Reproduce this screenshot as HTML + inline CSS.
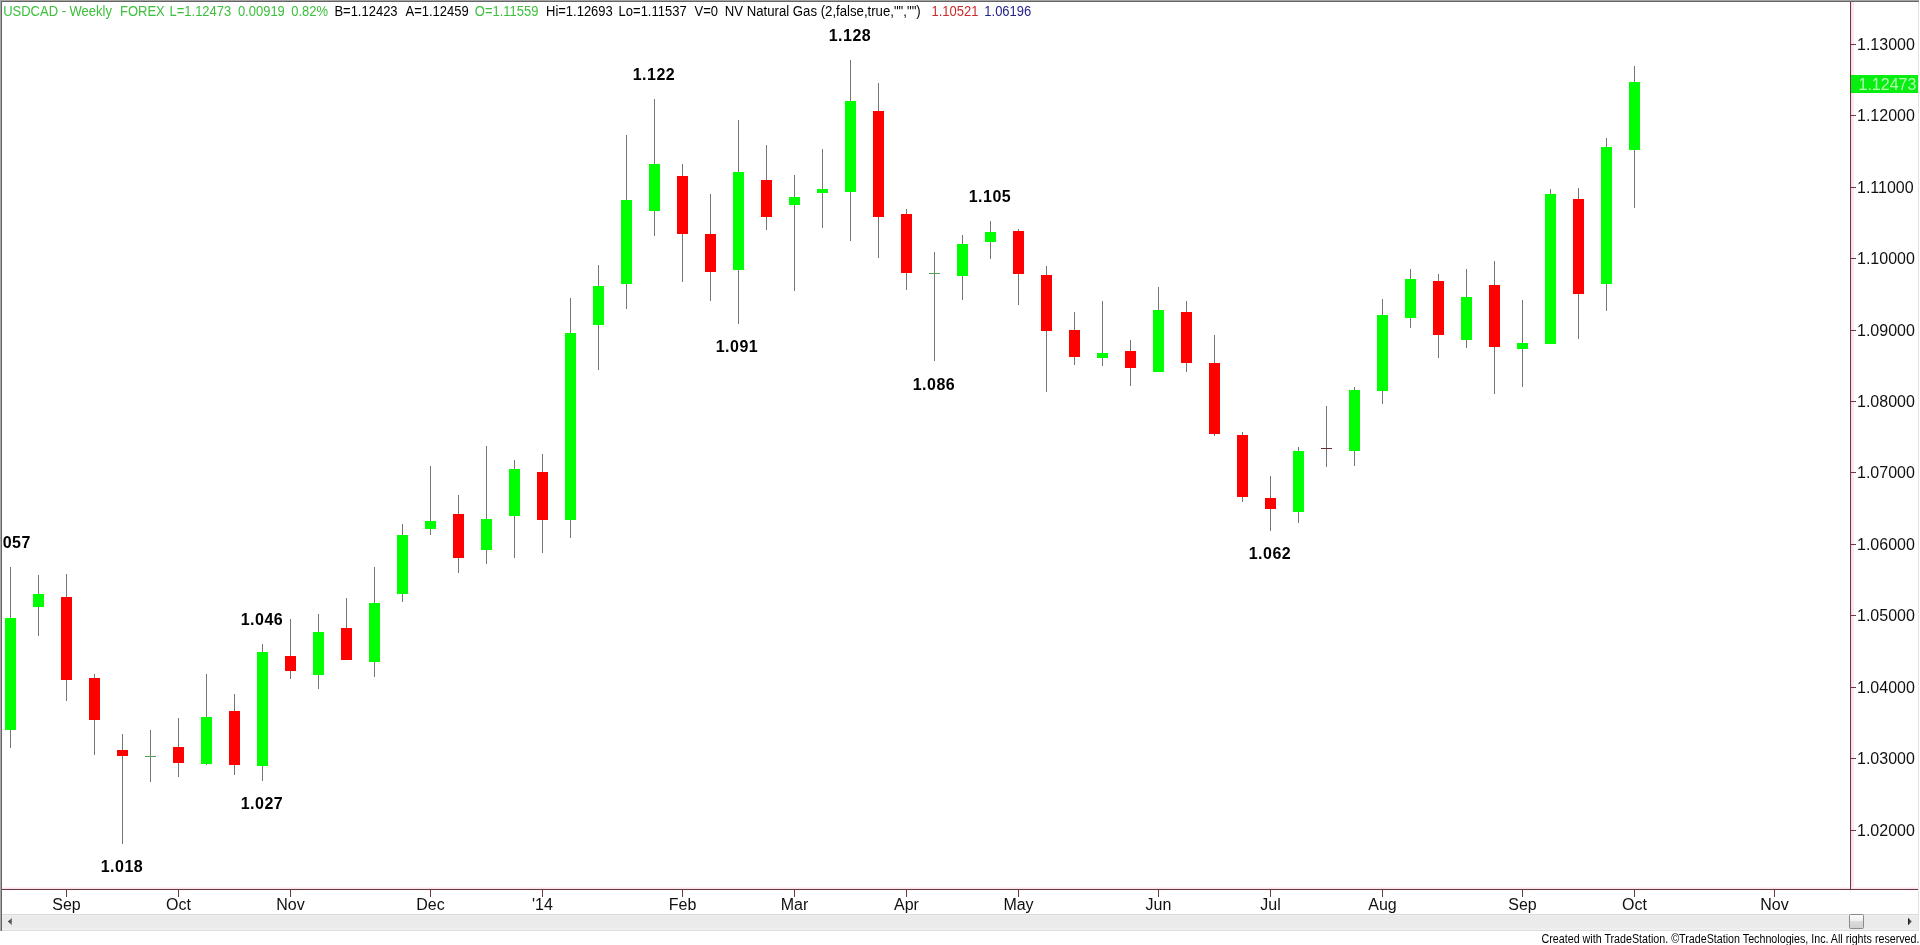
<!DOCTYPE html>
<html><head><meta charset="utf-8"><title>USDCAD - Weekly FOREX</title>
<style>
html,body{margin:0;padding:0;background:#fff;width:1920px;height:945px;overflow:hidden;}
svg{display:block;will-change:transform;}
text{font-family:"Liberation Sans",Arial,sans-serif;}
.hd{font-size:13px;}
.pl{font-size:16px;fill:#111;}
.dl{font-size:16px;fill:#111;}
.lb{font-size:16px;font-weight:bold;fill:#000;letter-spacing:0.5px;}
.ft{font-size:12px;fill:#000;}
</style></head><body>
<svg width="1920" height="945" viewBox="0 0 1920 945" shape-rendering="crispEdges">
<rect x="0" y="0" width="1920" height="945" fill="#fff"/>
<g>
<defs><clipPath id="cc"><rect x="2" y="2" width="1848" height="887"/></clipPath></defs>
<g clip-path="url(#cc)">
<rect x="10" y="567" width="1" height="181" fill="#767676"/>
<rect x="5" y="618" width="11" height="112" fill="#00ff00"/>
<rect x="38" y="575" width="1" height="61" fill="#767676"/>
<rect x="33" y="594" width="11" height="13" fill="#00ff00"/>
<rect x="66" y="574" width="1" height="127" fill="#767676"/>
<rect x="61" y="597" width="11" height="83" fill="#ff0000"/>
<rect x="94" y="674" width="1" height="81" fill="#767676"/>
<rect x="89" y="678" width="11" height="42" fill="#ff0000"/>
<rect x="122" y="734" width="1" height="110" fill="#767676"/>
<rect x="117" y="750" width="11" height="6" fill="#ff0000"/>
<rect x="150" y="730" width="1" height="52" fill="#767676"/>
<rect x="145" y="756" width="11" height="1" fill="#55a05d"/>
<rect x="178" y="718" width="1" height="59" fill="#767676"/>
<rect x="173" y="747" width="11" height="16" fill="#ff0000"/>
<rect x="206" y="674" width="1" height="91" fill="#767676"/>
<rect x="201" y="717" width="11" height="47" fill="#00ff00"/>
<rect x="234" y="694" width="1" height="81" fill="#767676"/>
<rect x="229" y="711" width="11" height="54" fill="#ff0000"/>
<rect x="262" y="644" width="1" height="137" fill="#767676"/>
<rect x="257" y="652" width="11" height="114" fill="#00ff00"/>
<rect x="290" y="619" width="1" height="60" fill="#767676"/>
<rect x="285" y="656" width="11" height="15" fill="#ff0000"/>
<rect x="318" y="614" width="1" height="75" fill="#767676"/>
<rect x="313" y="632" width="11" height="43" fill="#00ff00"/>
<rect x="346" y="598" width="1" height="62" fill="#767676"/>
<rect x="341" y="628" width="11" height="32" fill="#ff0000"/>
<rect x="374" y="567" width="1" height="110" fill="#767676"/>
<rect x="369" y="603" width="11" height="59" fill="#00ff00"/>
<rect x="402" y="524" width="1" height="78" fill="#767676"/>
<rect x="397" y="535" width="11" height="59" fill="#00ff00"/>
<rect x="430" y="466" width="1" height="69" fill="#767676"/>
<rect x="425" y="521" width="11" height="8" fill="#00ff00"/>
<rect x="458" y="495" width="1" height="78" fill="#767676"/>
<rect x="453" y="514" width="11" height="44" fill="#ff0000"/>
<rect x="486" y="446" width="1" height="118" fill="#767676"/>
<rect x="481" y="519" width="11" height="31" fill="#00ff00"/>
<rect x="514" y="460" width="1" height="98" fill="#767676"/>
<rect x="509" y="469" width="11" height="47" fill="#00ff00"/>
<rect x="542" y="454" width="1" height="99" fill="#767676"/>
<rect x="537" y="472" width="11" height="48" fill="#ff0000"/>
<rect x="570" y="298" width="1" height="240" fill="#767676"/>
<rect x="565" y="333" width="11" height="187" fill="#00ff00"/>
<rect x="598" y="265" width="1" height="105" fill="#767676"/>
<rect x="593" y="286" width="11" height="39" fill="#00ff00"/>
<rect x="626" y="135" width="1" height="174" fill="#767676"/>
<rect x="621" y="200" width="11" height="84" fill="#00ff00"/>
<rect x="654" y="99" width="1" height="137" fill="#767676"/>
<rect x="649" y="164" width="11" height="47" fill="#00ff00"/>
<rect x="682" y="164" width="1" height="118" fill="#767676"/>
<rect x="677" y="176" width="11" height="58" fill="#ff0000"/>
<rect x="710" y="194" width="1" height="107" fill="#767676"/>
<rect x="705" y="234" width="11" height="38" fill="#ff0000"/>
<rect x="738" y="120" width="1" height="204" fill="#767676"/>
<rect x="733" y="172" width="11" height="98" fill="#00ff00"/>
<rect x="766" y="145" width="1" height="85" fill="#767676"/>
<rect x="761" y="180" width="11" height="37" fill="#ff0000"/>
<rect x="794" y="175" width="1" height="116" fill="#767676"/>
<rect x="789" y="197" width="11" height="8" fill="#00ff00"/>
<rect x="822" y="149" width="1" height="79" fill="#767676"/>
<rect x="817" y="189" width="11" height="4" fill="#00ff00"/>
<rect x="850" y="60" width="1" height="181" fill="#767676"/>
<rect x="845" y="101" width="11" height="91" fill="#00ff00"/>
<rect x="878" y="83" width="1" height="175" fill="#767676"/>
<rect x="873" y="111" width="11" height="106" fill="#ff0000"/>
<rect x="906" y="209" width="1" height="81" fill="#767676"/>
<rect x="901" y="214" width="11" height="59" fill="#ff0000"/>
<rect x="934" y="252" width="1" height="109" fill="#767676"/>
<rect x="929" y="273" width="11" height="1" fill="#55a05d"/>
<rect x="962" y="235" width="1" height="65" fill="#767676"/>
<rect x="957" y="244" width="11" height="32" fill="#00ff00"/>
<rect x="990" y="221" width="1" height="38" fill="#767676"/>
<rect x="985" y="232" width="11" height="10" fill="#00ff00"/>
<rect x="1018" y="229" width="1" height="76" fill="#767676"/>
<rect x="1013" y="231" width="11" height="43" fill="#ff0000"/>
<rect x="1046" y="266" width="1" height="126" fill="#767676"/>
<rect x="1041" y="275" width="11" height="56" fill="#ff0000"/>
<rect x="1074" y="312" width="1" height="53" fill="#767676"/>
<rect x="1069" y="330" width="11" height="27" fill="#ff0000"/>
<rect x="1102" y="301" width="1" height="65" fill="#767676"/>
<rect x="1097" y="353" width="11" height="5" fill="#00ff00"/>
<rect x="1130" y="340" width="1" height="46" fill="#767676"/>
<rect x="1125" y="351" width="11" height="17" fill="#ff0000"/>
<rect x="1158" y="287" width="1" height="85" fill="#767676"/>
<rect x="1153" y="310" width="11" height="62" fill="#00ff00"/>
<rect x="1186" y="301" width="1" height="71" fill="#767676"/>
<rect x="1181" y="312" width="11" height="51" fill="#ff0000"/>
<rect x="1214" y="335" width="1" height="101" fill="#767676"/>
<rect x="1209" y="363" width="11" height="71" fill="#ff0000"/>
<rect x="1242" y="432" width="1" height="70" fill="#767676"/>
<rect x="1237" y="435" width="11" height="62" fill="#ff0000"/>
<rect x="1270" y="476" width="1" height="55" fill="#767676"/>
<rect x="1265" y="498" width="11" height="11" fill="#ff0000"/>
<rect x="1298" y="447" width="1" height="76" fill="#767676"/>
<rect x="1293" y="451" width="11" height="61" fill="#00ff00"/>
<rect x="1326" y="406" width="1" height="61" fill="#767676"/>
<rect x="1321" y="448" width="11" height="1" fill="#6a2e2e"/>
<rect x="1354" y="387" width="1" height="79" fill="#767676"/>
<rect x="1349" y="390" width="11" height="61" fill="#00ff00"/>
<rect x="1382" y="299" width="1" height="105" fill="#767676"/>
<rect x="1377" y="315" width="11" height="76" fill="#00ff00"/>
<rect x="1410" y="269" width="1" height="59" fill="#767676"/>
<rect x="1405" y="279" width="11" height="39" fill="#00ff00"/>
<rect x="1438" y="274" width="1" height="84" fill="#767676"/>
<rect x="1433" y="281" width="11" height="54" fill="#ff0000"/>
<rect x="1466" y="269" width="1" height="79" fill="#767676"/>
<rect x="1461" y="297" width="11" height="43" fill="#00ff00"/>
<rect x="1494" y="261" width="1" height="133" fill="#767676"/>
<rect x="1489" y="285" width="11" height="62" fill="#ff0000"/>
<rect x="1522" y="300" width="1" height="87" fill="#767676"/>
<rect x="1517" y="343" width="11" height="6" fill="#00ff00"/>
<rect x="1550" y="189" width="1" height="155" fill="#767676"/>
<rect x="1545" y="194" width="11" height="150" fill="#00ff00"/>
<rect x="1578" y="188" width="1" height="151" fill="#767676"/>
<rect x="1573" y="199" width="11" height="95" fill="#ff0000"/>
<rect x="1606" y="138" width="1" height="173" fill="#767676"/>
<rect x="1601" y="147" width="11" height="137" fill="#00ff00"/>
<rect x="1634" y="66" width="1" height="142" fill="#767676"/>
<rect x="1629" y="82" width="11" height="68" fill="#00ff00"/>
<text class="lb" x="9.6" y="547.6" text-anchor="middle" shape-rendering="auto">1.057</text>
<text class="lb" x="122" y="871.6" text-anchor="middle" shape-rendering="auto">1.018</text>
<text class="lb" x="262" y="624.6" text-anchor="middle" shape-rendering="auto">1.046</text>
<text class="lb" x="262" y="808.6" text-anchor="middle" shape-rendering="auto">1.027</text>
<text class="lb" x="654" y="79.6" text-anchor="middle" shape-rendering="auto">1.122</text>
<text class="lb" x="850" y="40.6" text-anchor="middle" shape-rendering="auto">1.128</text>
<text class="lb" x="737" y="351.6" text-anchor="middle" shape-rendering="auto">1.091</text>
<text class="lb" x="934" y="389.6" text-anchor="middle" shape-rendering="auto">1.086</text>
<text class="lb" x="990" y="201.6" text-anchor="middle" shape-rendering="auto">1.105</text>
<text class="lb" x="1270" y="558.6" text-anchor="middle" shape-rendering="auto">1.062</text>
</g>
<rect x="0" y="0" width="1919" height="1" fill="#a4a4a4"/>
<rect x="1" y="1" width="1918" height="1" fill="#646464"/>
<rect x="0" y="0" width="1" height="931" fill="#a8a8a8"/>
<rect x="1" y="1" width="1" height="930" fill="#646464"/>
<rect x="1918" y="2" width="1" height="929" fill="#e2e2e2"/>
<rect x="1851" y="2" width="1" height="887" fill="#fcd8e6"/>
<rect x="1852" y="2" width="2" height="887" fill="#fde8f0"/>
<rect x="2" y="887" width="1916" height="1" fill="#fef1f4"/>
<rect x="2" y="888" width="1916" height="1" fill="#fde0e8"/>
<rect x="2" y="889" width="1916" height="1" fill="#6c3844"/>
<rect x="1850" y="2" width="1" height="887" fill="#6c3844"/>
<rect x="1851" y="44" width="5" height="1" fill="#6c3844"/>
<text class="pl" x="1857" y="49.8">1.13000</text>
<rect x="1851" y="115" width="5" height="1" fill="#6c3844"/>
<text class="pl" x="1857" y="120.8">1.12000</text>
<rect x="1851" y="187" width="5" height="1" fill="#6c3844"/>
<text class="pl" x="1857" y="192.8">1.11000</text>
<rect x="1851" y="258" width="5" height="1" fill="#6c3844"/>
<text class="pl" x="1857" y="263.8">1.10000</text>
<rect x="1851" y="330" width="5" height="1" fill="#6c3844"/>
<text class="pl" x="1857" y="335.8">1.09000</text>
<rect x="1851" y="401" width="5" height="1" fill="#6c3844"/>
<text class="pl" x="1857" y="406.8">1.08000</text>
<rect x="1851" y="472" width="5" height="1" fill="#6c3844"/>
<text class="pl" x="1857" y="477.8">1.07000</text>
<rect x="1851" y="544" width="5" height="1" fill="#6c3844"/>
<text class="pl" x="1857" y="549.8">1.06000</text>
<rect x="1851" y="615" width="5" height="1" fill="#6c3844"/>
<text class="pl" x="1857" y="620.8">1.05000</text>
<rect x="1851" y="687" width="5" height="1" fill="#6c3844"/>
<text class="pl" x="1857" y="692.8">1.04000</text>
<rect x="1851" y="758" width="5" height="1" fill="#6c3844"/>
<text class="pl" x="1857" y="763.8">1.03000</text>
<rect x="1851" y="830" width="5" height="1" fill="#6c3844"/>
<text class="pl" x="1857" y="835.8">1.02000</text>
<rect x="1851" y="75" width="67" height="18" fill="#08ee10"/>
<text class="pl" x="1858.5" y="89.5" style="fill:#b0ffb0">1.12473</text>
<rect x="66" y="890" width="1" height="7" fill="#6c3844"/>
<text class="dl" x="66.5" y="909.7" text-anchor="middle">Sep</text>
<rect x="178" y="890" width="1" height="7" fill="#6c3844"/>
<text class="dl" x="178.5" y="909.7" text-anchor="middle">Oct</text>
<rect x="290" y="890" width="1" height="7" fill="#6c3844"/>
<text class="dl" x="290.5" y="909.7" text-anchor="middle">Nov</text>
<rect x="430" y="890" width="1" height="7" fill="#6c3844"/>
<text class="dl" x="430.5" y="909.7" text-anchor="middle">Dec</text>
<rect x="542" y="890" width="1" height="7" fill="#6c3844"/>
<text class="dl" x="542.5" y="909.7" text-anchor="middle">'14</text>
<rect x="682" y="890" width="1" height="7" fill="#6c3844"/>
<text class="dl" x="682.5" y="909.7" text-anchor="middle">Feb</text>
<rect x="794" y="890" width="1" height="7" fill="#6c3844"/>
<text class="dl" x="794.5" y="909.7" text-anchor="middle">Mar</text>
<rect x="906" y="890" width="1" height="7" fill="#6c3844"/>
<text class="dl" x="906.5" y="909.7" text-anchor="middle">Apr</text>
<rect x="1018" y="890" width="1" height="7" fill="#6c3844"/>
<text class="dl" x="1018.5" y="909.7" text-anchor="middle">May</text>
<rect x="1158" y="890" width="1" height="7" fill="#6c3844"/>
<text class="dl" x="1158.5" y="909.7" text-anchor="middle">Jun</text>
<rect x="1270" y="890" width="1" height="7" fill="#6c3844"/>
<text class="dl" x="1270.5" y="909.7" text-anchor="middle">Jul</text>
<rect x="1382" y="890" width="1" height="7" fill="#6c3844"/>
<text class="dl" x="1382.5" y="909.7" text-anchor="middle">Aug</text>
<rect x="1522" y="890" width="1" height="7" fill="#6c3844"/>
<text class="dl" x="1522.5" y="909.7" text-anchor="middle">Sep</text>
<rect x="1634" y="890" width="1" height="7" fill="#6c3844"/>
<text class="dl" x="1634.5" y="909.7" text-anchor="middle">Oct</text>
<rect x="1774" y="890" width="1" height="7" fill="#6c3844"/>
<text class="dl" x="1774.5" y="909.7" text-anchor="middle">Nov</text>
<text class="hd" transform="translate(3.2,15.8) scale(1,1.08)" x="0" y="0" fill="#3cc03c">USDCAD - Weekly</text>
<text class="hd" transform="translate(120.0,15.8) scale(1,1.08)" x="0" y="0" fill="#3cc03c">FOREX</text>
<text class="hd" transform="translate(169.5,15.8) scale(1,1.08)" x="0" y="0" fill="#3cc03c">L=1.12473</text>
<text class="hd" transform="translate(237.9,15.8) scale(1,1.08)" x="0" y="0" fill="#3cc03c">0.00919</text>
<text class="hd" transform="translate(291.2,15.8) scale(1,1.08)" x="0" y="0" fill="#3cc03c">0.82%</text>
<text class="hd" transform="translate(334.4,15.8) scale(1,1.08)" x="0" y="0" fill="#000">B=1.12423</text>
<text class="hd" transform="translate(405.5,15.8) scale(1,1.08)" x="0" y="0" fill="#000">A=1.12459</text>
<text class="hd" transform="translate(474.8,15.8) scale(1,1.08)" x="0" y="0" fill="#3cc03c">O=1.11559</text>
<text class="hd" transform="translate(546.0,15.8) scale(1,1.08)" x="0" y="0" fill="#000">Hi=1.12693</text>
<text class="hd" transform="translate(618.6,15.8) scale(1,1.08)" x="0" y="0" fill="#000">Lo=1.11537</text>
<text class="hd" transform="translate(694.5,15.8) scale(1,1.08)" x="0" y="0" fill="#000">V=0</text>
<text class="hd" transform="translate(724.7,15.8) scale(1,1.08)" x="0" y="0" fill="#000" textLength="196" lengthAdjust="spacingAndGlyphs">NV Natural Gas (2,false,true,&quot;&quot;,&quot;&quot;)</text>
<text class="hd" transform="translate(931.5,15.8) scale(1,1.08)" x="0" y="0" fill="#cc2a2a">1.10521</text>
<text class="hd" transform="translate(984.3,15.8) scale(1,1.08)" x="0" y="0" fill="#22228a">1.06196</text>
<rect x="2" y="914" width="1916" height="17" fill="#ebebeb"/>
<rect x="2" y="915" width="1916" height="1" fill="#efefef"/>
<rect x="2" y="928" width="1916" height="2" fill="#efefef"/>
<rect x="2" y="914" width="1916" height="1" fill="#dadada"/>
<rect x="2" y="930" width="1916" height="1" fill="#dedede"/>
<defs><linearGradient id="ag" x1="0" y1="0" x2="1" y2="0"><stop offset="0" stop-color="#111"/><stop offset="1" stop-color="#8a8a8a"/></linearGradient></defs>
<path d="M8 921.5 L12 917.8 L12 925.2 Z" fill="url(#ag)" shape-rendering="auto"/>
<path d="M1912 921.5 L1908 917.8 L1908 925.2 Z" fill="url(#ag)" shape-rendering="auto"/>
<defs><linearGradient id="tg" x1="0" y1="0" x2="0" y2="1"><stop offset="0" stop-color="#fbfbfb"/><stop offset="0.45" stop-color="#f0f0f0"/><stop offset="0.5" stop-color="#dcdcdc"/><stop offset="1" stop-color="#cfcfcf"/></linearGradient></defs>
<rect x="1849.5" y="914.5" width="14" height="14" rx="1" fill="url(#tg)" stroke="#8a8a8a" stroke-width="1" shape-rendering="auto"/>
<text class="ft" x="1541.5" y="942.7" textLength="378" lengthAdjust="spacingAndGlyphs">Created with TradeStation. ©TradeStation Technologies, Inc. All rights reserved.</text>
</g>
</svg>
</body></html>
